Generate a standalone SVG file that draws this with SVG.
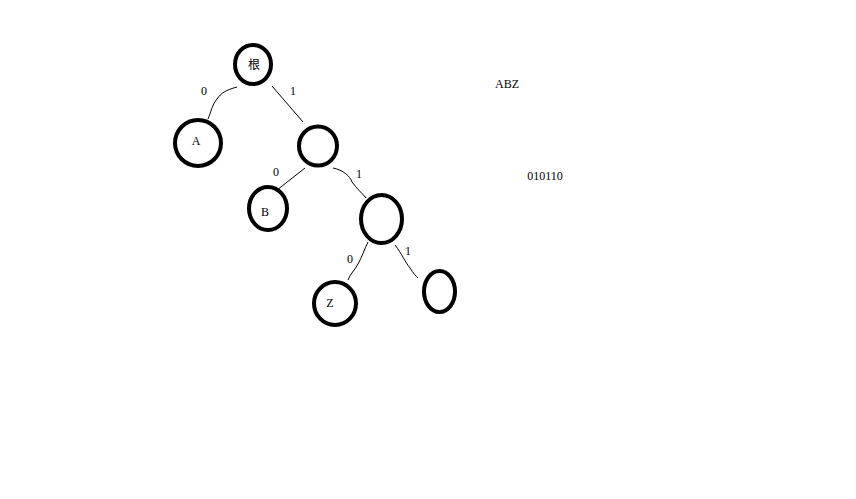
<svg xmlns="http://www.w3.org/2000/svg" width="856" height="499" viewBox="0 0 856 499">
<style>
.n{fill:none;stroke:#000;stroke-width:4}
.e{fill:none;stroke:#000;stroke-width:1}
text{font-family:"Liberation Serif","Noto Sans CJK SC",serif;font-size:12px;fill:#000;text-anchor:middle;dominant-baseline:central}
</style>
<rect width="856" height="499" fill="#fff"/>
<g id="connectors">
<path class="e" d="M237,87 C226,90 221,93 217,99 C212,105 211,112 208,119"/>
<path class="e" d="M272,86 L303,122"/>
<path class="e" d="M305,168 L277,190"/>
<path class="e" d="M333,168 C343,170 350,176 352,182 C357,189 362,193 366,198"/>
<path class="e" d="M368,242 C364,250 362,257 358,264 C355,270 350,274 348,280"/>
<path class="e" d="M395,245 C402,254 405,262 410,268 C413,273 416,276 418,278"/>
</g>
<g id="labels">
<text x="204" y="91">0</text>
<text x="293" y="91">1</text>
<text x="276" y="172">0</text>
<text x="359" y="174">1</text>
<text x="350" y="259">0</text>
<text x="408" y="251">1</text>
</g>
<g id="root"><ellipse class="n" cx="253" cy="64.5" rx="18" ry="19.5"/><text x="254" y="65">根</text></g>
<g id="A"><ellipse class="n" cx="198" cy="143" rx="23" ry="23"/><text x="196" y="141">A</text></g>
<g id="n1"><ellipse class="n" cx="318" cy="146" rx="19" ry="19.5"/></g>
<g id="B"><ellipse class="n" cx="268" cy="208.5" rx="19" ry="21.5"/><text x="265" y="212">B</text></g>
<g id="n2"><ellipse class="n" cx="381.5" cy="219" rx="20.5" ry="24"/></g>
<g id="Z"><ellipse class="n" cx="335" cy="303.5" rx="21" ry="21.5"/><text x="330" y="303">Z</text></g>
<g id="n3"><ellipse class="n" cx="439.5" cy="291.5" rx="15.5" ry="20.5"/></g>
<g id="notes">
<text x="507" y="84">ABZ</text>
<text x="545" y="176">010110</text>
</g>
</svg>
